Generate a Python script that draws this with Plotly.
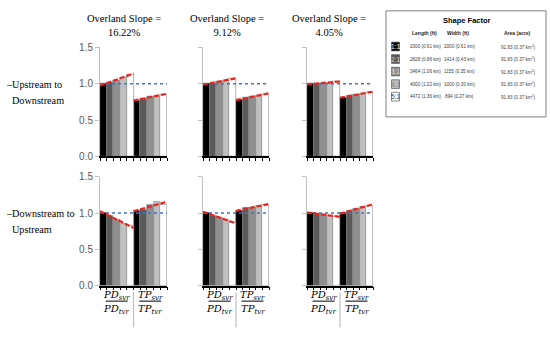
import numpy as np
import plotly.graph_objects as go

# ---------------- data ----------------
shape_labels = ["1:1", "2:1", "3:1", "4:1", "5:1"]
slopes = ["16.22%", "9.12%", "4.05%"]
row_labels = [["–Upstream to", "Downstream"], ["–Downstream to", "Upstream"]]

up_pd = [[1.00, 1.02, 1.05, 1.09, 1.13],
         [1.00, 1.01, 1.03, 1.05, 1.07],
         [1.00, 1.00, 1.01, 1.02, 1.03]]
up_tp = [[0.77, 0.80, 0.83, 0.83, 0.85],
         [0.78, 0.81, 0.82, 0.84, 0.86],
         [0.81, 0.84, 0.85, 0.87, 0.88]]
down_pd = [[1.00, 0.96, 0.91, 0.86, 0.82],
           [1.00, 0.97, 0.94, 0.91, 0.87],
           [1.00, 0.99, 0.98, 0.97, 0.95]]
down_tp = [[1.03, 1.05, 1.11, 1.15, 1.11],
           [1.03, 1.07, 1.08, 1.10, 1.11],
           [1.00, 1.03, 1.06, 1.09, 1.10]]

lengths = ["2000 (0.61 km)", "2828 (0.86 km)", "3464 (1.06 km)", "4000 (1.22 km)", "4472 (1.36 km)"]
widths = ["2000 (0.61 km)", "1414 (0.43 km)", "1155 (0.35 km)", "1000 (0.30 km)", "894 (0.27 km)"]
areas = ["91.83 (0.37 km<sup>2</sup>)"] * 5
y_ticks = [0.0, 0.5, 1.0, 1.5]

# ---------------- styles ----------------
W, H = 550, 338
bar_colors = ["#000000", "#5a5a5a", "#8f8f8f", "#c0c0c0", "#ffffff"]
sw_text = ["#ffffff", "#d9d9d9", "#e0e0e0", "#7f7f7f", "#404040"]
serif = "Liberation Serif"
sans = "Liberation Sans"


def px(x):
    return x / W


def py(y):
    return 1 - y / H


panel_x = [(100, 167), (203, 269), (307, 373)]
row_y = [(43, 156), (177, 290)]

fig = go.Figure()
layout_axes = {}
shapes = []
annotations = []

rows_data = [(up_pd, up_tp), (down_pd, down_tp)]
k = 0
for r in range(2):
    pd_vals, tp_vals = rows_data[r]
    for c in range(3):
        k += 1
        xa = "x" if k == 1 else f"x{k}"
        ya = "y" if k == 1 else f"y{k}"
        xname = "xaxis" if k == 1 else f"xaxis{k}"
        yname = "yaxis" if k == 1 else f"yaxis{k}"
        for i in range(5):
            fig.add_trace(go.Bar(
                x=[i, i + 5], y=[pd_vals[c][i], tp_vals[c][i]], width=1,
                marker=dict(color=bar_colors[i], line=dict(color="#7f7f7f", width=0.6)),
                xaxis=xa, yaxis=ya, showlegend=False, hoverinfo="y"))
        # reference line at 1.0
        fig.add_trace(go.Scatter(
            x=[-0.5, 9.5], y=[1, 1], mode="lines",
            line=dict(color="#4472c4", width=1.5, dash="dot"),
            xaxis=xa, yaxis=ya, showlegend=False, hoverinfo="skip"))
        # trend lines fitted to each group
        for g, vals in enumerate([pd_vals[c], tp_vals[c]]):
            xs = np.arange(5)
            m, b = np.polyfit(xs, vals, 1)
            xe = np.array([-0.5, 4.5])
            fig.add_trace(go.Scatter(
                x=xe + 5 * g, y=m * xe + b, mode="lines",
                line=dict(color="#e8241c", width=2.2, dash="5px,2px"),
                xaxis=xa, yaxis=ya, showlegend=False, hoverinfo="skip"))
        x0, x1 = panel_x[c]
        y0, y1 = row_y[r]
        layout_axes[xname] = dict(
            domain=[px(x0), px(x1)], range=[-0.5, 9.5], anchor=ya,
            tickvals=[v - 0.5 for v in range(11)], ticks="outside", ticklen=3,
            tickcolor="#000000", tickwidth=1, showticklabels=False,
            showline=True, linecolor="#000000", linewidth=1.5,
            showgrid=False, zeroline=False, fixedrange=True)
        layout_axes[yname] = dict(
            domain=[py(y1), py(y0)], range=[0, 1.5], anchor=xa,
            tickvals=y_ticks, ticktext=[f"{v:.1f}" for v in y_ticks],
            showticklabels=(c == 0), ticks="outside", ticklen=4,
            tickcolor="#bfbfbf", showline=True, linecolor="#bfbfbf", linewidth=1,
            showgrid=False, zeroline=False,
            tickfont=dict(family=sans, size=10, color="#595959"), fixedrange=True)

# column titles
title_cx = [124, 227, 329]
for c in range(3):
    annotations.append(dict(
        x=px(title_cx[c]), y=py(20), xref="paper", yref="paper",
        text=f"Overland Slope =<br>{slopes[c]}", showarrow=False,
        font=dict(family=serif, size=10.5, color="#000000"),
        xanchor="center", yanchor="middle", align="center"))

# row labels (two lines, second one indented past the dash)
row_cy = [(81, 98), (215, 232)]
for r in range(2):
    for j, (lx, ly) in enumerate([(4, row_cy[r][0]), (10, row_cy[r][1])]):
        annotations.append(dict(
            x=px(lx), y=py(ly), xref="paper", yref="paper",
            text=row_labels[r][j], showarrow=False,
            font=dict(family=serif, size=10.2, color="#000000"),
            xanchor="left", yanchor="middle", align="left"))

# fraction labels under bottom row
for c in range(3):
    x0, x1 = panel_x[c]
    bw = (x1 - x0) / 10
    pd_c = x0 + 2.5 * bw
    tp_c = x0 + 7.5 * bw
    sep = x0 + 5 * bw
    for cx, sym in [(pd_c, "PD"), (tp_c, "TP")]:
        annotations.append(dict(
            x=px(cx), y=py(300), xref="paper", yref="paper",
            text=f"<i>{sym}<sub>svr</sub></i>", showarrow=False,
            font=dict(family="DejaVu Serif", size=10, color="#000000"),
            xanchor="center", yanchor="middle"))
        annotations.append(dict(
            x=px(cx), y=py(315), xref="paper", yref="paper",
            text=f"<i>{sym}<sub>tvr</sub></i>", showarrow=False,
            font=dict(family="DejaVu Serif", size=10, color="#000000"),
            xanchor="center", yanchor="middle"))
        shapes.append(dict(type="line", xref="paper", yref="paper",
                           x0=px(cx - 11), x1=px(cx + 11), y0=py(306), y1=py(306),
                           line=dict(color="#000000", width=1)))
    shapes.append(dict(type="line", xref="paper", yref="paper",
                       x0=px(sep), x1=px(sep), y0=py(297), y1=py(333),
                       line=dict(color="#bfbfbf", width=1.2)))

# legend table box
shapes.append(dict(type="rect", xref="paper", yref="paper",
                   x0=px(386), x1=px(546), y0=py(5), y1=py(115),
                   line=dict(color="#7f7f7f", width=1), fillcolor="#ffffff"))
annotations.append(dict(x=px(467), y=py(15), xref="paper", yref="paper",
                        text="<b>Shape Factor</b>", showarrow=False,
                        font=dict(family=sans, size=7.5, color="#000000"),
                        xanchor="center", yanchor="middle"))
for hx, ht in [(424, "Length (ft)"), (458, "Width (ft)"), (517, "Area (acre)")]:
    annotations.append(dict(x=px(hx), y=py(28), xref="paper", yref="paper",
                            text=f"<b>{ht}</b>", showarrow=False,
                            font=dict(family=sans, size=5, color="#262626"),
                            xanchor="center", yanchor="middle"))
row_ys = [42, 55, 68, 81, 94]
for i in range(5):
    yy = row_ys[i]
    shapes.append(dict(type="rect", xref="paper", yref="paper",
                       x0=px(391.5), x1=px(399.5), y0=py(yy - 4.5), y1=py(yy + 4.5),
                       line=dict(color="#404040", width=0.6), fillcolor=bar_colors[i]))
    annotations.append(dict(x=px(395.5), y=py(yy), xref="paper", yref="paper",
                            text=shape_labels[i], showarrow=False,
                            font=dict(family=sans, size=6.5, color=sw_text[i]),
                            xanchor="center", yanchor="middle"))
    for cx, txt in [(425, lengths[i]), (459, widths[i]), (518, areas[i])]:
        annotations.append(dict(x=px(cx), y=py(yy), xref="paper", yref="paper",
                                text=txt, showarrow=False,
                                font=dict(family=sans, size=4.6, color="#404040"),
                                xanchor="center", yanchor="middle"))

fig.update_layout(
    width=W, height=H, margin=dict(l=0, r=0, t=0, b=0),
    paper_bgcolor="#ffffff", plot_bgcolor="rgba(0,0,0,0)",
    barmode="overlay", bargap=0, showlegend=False,
    shapes=shapes, annotations=annotations, **layout_axes)

fig.write_html(
    "out.html",
    config={"displayModeBar": False},
    post_script="document.body.style.margin='0';document.body.style.overflow='hidden';",
)
